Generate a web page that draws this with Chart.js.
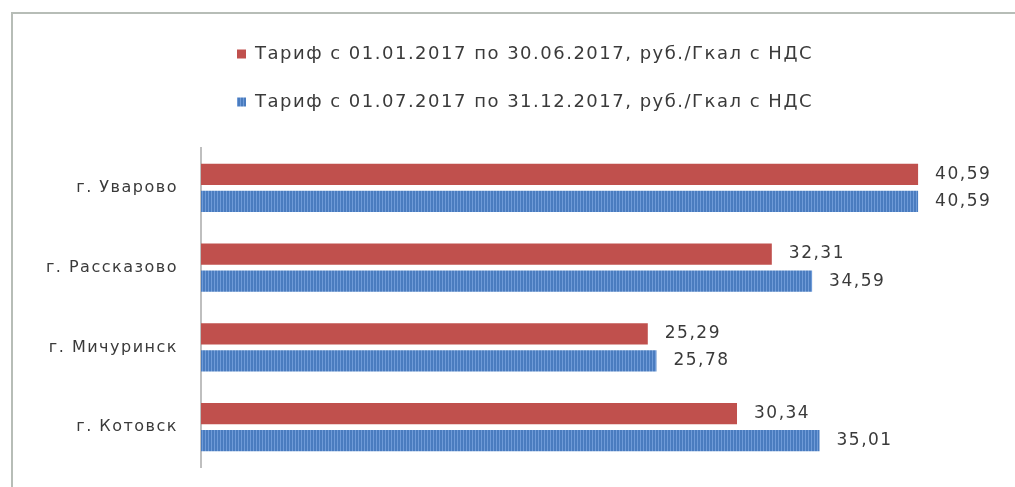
<!DOCTYPE html>
<html>
<head>
<meta charset="utf-8">
<script src="https://cdn.jsdelivr.net/npm/chart.js@4.4.1/dist/chart.umd.min.js"></script>
<style>
  html, body { margin: 0; padding: 0; background: #ffffff; }
  #wrap { width: 1015px; height: 487px; position: relative; }
</style>
</head>
<body>
<div id="wrap"><canvas id="c"></canvas></div>
<script>
// ---- data ----
const categories = ['г. Уварово', 'г. Рассказово', 'г. Мичуринск', 'г. Котовск'];
const seriesNames = [
  'Тариф с 01.01.2017 по 30.06.2017, руб./Гкал с НДС',
  'Тариф с 01.07.2017 по 31.12.2017, руб./Гкал с НДС'
];
const tariffFirstHalf = [40.59, 32.31, 25.29, 30.34];
const tariffSecondHalf = [40.59, 34.59, 25.78, 35.01];

// ---- styles ----
const FONT = '"DejaVu Sans", Verdana, sans-serif';
const TEXT_COLOR = '#3a3a3a';
const RED = '#c0504d';
const SPACING = '1.5px';

function bluePattern() {
  const c = document.createElement('canvas');
  c.width = 3; c.height = 3;
  const g = c.getContext('2d');
  g.fillStyle = '#4a7cbf';
  g.fillRect(0, 0, 3, 3);
  g.fillStyle = '#6f9bd8';
  g.fillRect(1, 0, 1, 3);
  return g.createPattern(c, 'repeat');
}
const BLUE = bluePattern();

const textSpacing = {
  id: 'textSpacing',
  beforeUpdate(chart) { chart.ctx.letterSpacing = SPACING; },
  beforeLayout(chart) { chart.ctx.letterSpacing = SPACING; },
  beforeDraw(chart) { chart.ctx.letterSpacing = SPACING; }
};

const frame = {
  id: 'frame',
  beforeDraw(chart) {
    const ctx = chart.ctx;
    ctx.save();
    ctx.strokeStyle = '#b7bdb7';
    ctx.lineWidth = 2;
    ctx.beginPath();
    ctx.moveTo(12, chart.height);
    ctx.lineTo(12, 13);
    ctx.lineTo(chart.width, 13);
    ctx.stroke();
    ctx.restore();
  }
};

// adds the gap under the legend and nudges it to the right like the original
const legendTweak = {
  id: 'legendTweak',
  beforeLayout(chart) {
    const lg = chart.legend;
    if (lg && !lg._tweaked) {
      const origFit = lg.fit;
      lg.fit = function () { origFit.call(this); this.height += 27; };
      const origDraw = lg.draw;
      lg.draw = function () {
        const ctx = this.ctx;
        ctx.save();
        ctx.translate(11, 0);
        origDraw.call(this);
        ctx.restore();
      };
      lg._tweaked = true;
    }
  }
};

const valueLabels = {
  id: 'valueLabels',
  afterDatasetsDraw(chart) {
    const ctx = chart.ctx;
    ctx.save();
    ctx.font = '17px ' + FONT;
    ctx.fillStyle = TEXT_COLOR;
    ctx.textBaseline = 'middle';
    ctx.textAlign = 'left';
    chart.data.datasets.forEach((ds, i) => {
      chart.getDatasetMeta(i).data.forEach((bar, j) => {
        const txt = ds.data[j].toFixed(2).replace('.', ',');
        ctx.fillText(txt, bar.x + 17, bar.y);
      });
    });
    ctx.restore();
  }
};

new Chart(document.getElementById('c'), {
  type: 'bar',
  data: {
    labels: categories,
    datasets: [
      { label: seriesNames[0], data: tariffFirstHalf, backgroundColor: RED, borderWidth: 0,
        categoryPercentage: 0.68, barPercentage: 0.78 },
      { label: seriesNames[1], data: tariffSecondHalf, backgroundColor: BLUE, borderWidth: 0,
        categoryPercentage: 0.68, barPercentage: 0.78 }
    ]
  },
  options: {
    indexAxis: 'y',
    responsive: true,
    maintainAspectRatio: false,
    animation: false,
    layout: { padding: { top: 15, right: 19, bottom: 20, left: 32 } },
    plugins: {
      tooltip: { enabled: false },
      legend: {
        position: 'top',
        align: 'center',
        labels: {
          boxWidth: 9,
          boxHeight: 9,
          padding: 30,
          color: TEXT_COLOR,
          font: { family: FONT, size: 18 }
        }
      }
    },
    scales: {
      x: { display: false, min: 0, max: 45 },
      y: {
        afterFit(scale) { scale.width = 169; },
        grid: { display: false, drawTicks: true, tickLength: 19 },
        border: { display: true, color: '#bfbfbf', width: 2 },
        ticks: { padding: 4, color: TEXT_COLOR, font: { family: FONT, size: 16 } }
      }
    }
  },
  plugins: [textSpacing, frame, legendTweak, valueLabels]
});
</script>
</body>
</html>
